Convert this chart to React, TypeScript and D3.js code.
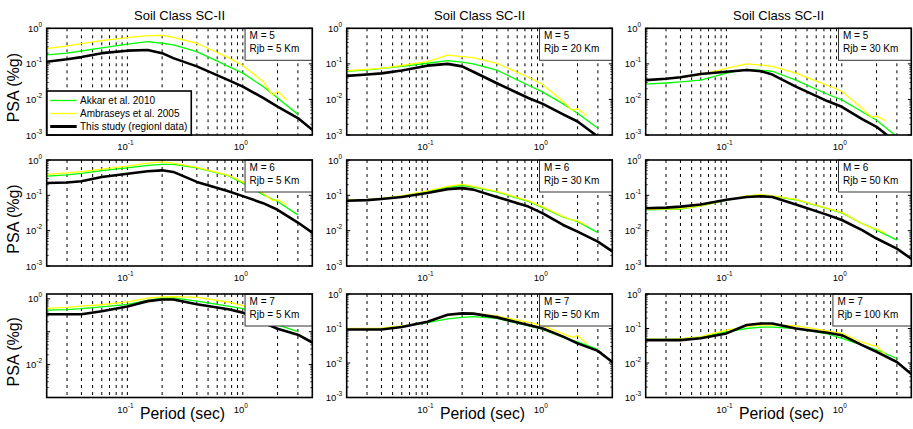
import React from 'react';
import * as d3 from 'd3';

const W = 913;
const H = 429;
const FONT = 'Arial, "Liberation Sans", Helvetica, sans-serif';

// Periods (s)
const PERIODS_STUDY = [0.02, 0.03, 0.04, 0.06, 0.1, 0.15, 0.2, 0.25, 0.4, 0.75, 1, 1.5, 2, 3, 4];
const PERIODS_AKKAR = [0.02, 0.03, 0.04, 0.06, 0.1, 0.15, 0.2, 0.25, 0.4, 0.75, 1, 1.5, 2, 3];
const PERIODS_AMB = [0.02, 0.03, 0.04, 0.06, 0.1, 0.15, 0.2, 0.25, 0.4, 0.75, 1, 1.5, 1.8, 2, 2.4];

const MAGNITUDES = [5, 5, 5, 6, 6, 6, 7, 7, 7];
const DISTANCES = [5, 20, 30, 5, 30, 50, 5, 50, 100];

const TITLE = 'Soil Class SC-II';
const Y_LABEL = 'PSA (%g)';
const X_LABEL = 'Period (sec)';
const LEGEND_LABELS = ['Akkar et al. 2010', 'Ambraseys et al. 2005', 'This study (regionl data)'];

// M5 Rjb5
const STUDY_M5_R5 = [0.115, 0.135, 0.155, 0.2, 0.235, 0.245, 0.2, 0.145, 0.085, 0.035, 0.023, 0.011, 0.0063, 0.003, 0.0014];
const AKKAR_M5_R5 = [0.178, 0.2, 0.23, 0.28, 0.36, 0.42, 0.38, 0.34, 0.22, 0.085, 0.055, 0.023, 0.011, 0.0038];
const AMB_M5_R5 = [0.27, 0.32, 0.37, 0.45, 0.55, 0.62, 0.63, 0.56, 0.38, 0.15, 0.09, 0.032, 0.0134, 0.0166, 0.0097];
// M5 Rjb20
const STUDY_M5_R20 = [0.046, 0.05, 0.054, 0.065, 0.089, 0.1, 0.085, 0.06, 0.0285, 0.011, 0.0075, 0.0038, 0.0024, 0.0009, 0.0004];
const AKKAR_M5_R20 = [0.062, 0.068, 0.075, 0.085, 0.104, 0.123, 0.112, 0.1, 0.067, 0.025, 0.016, 0.0075, 0.0041, 0.00155];
const AMB_M5_R20 = [0.064, 0.07, 0.075, 0.09, 0.115, 0.175, 0.16, 0.15, 0.104, 0.042, 0.026, 0.0087, 0.0049, 0.0055, 0.0035];
// M5 Rjb30
const STUDY_M5_R30 = [0.035, 0.038, 0.042, 0.052, 0.06, 0.067, 0.062, 0.05, 0.023, 0.009, 0.0062, 0.0028, 0.0017, 0.0006, 0.0003];
const AKKAR_M5_R30 = [0.027, 0.029, 0.031, 0.035, 0.055, 0.07, 0.066, 0.062, 0.035, 0.014, 0.0097, 0.0045, 0.0026, 0.0009];
const AMB_M5_R30 = [0.034, 0.038, 0.042, 0.05, 0.075, 0.1, 0.092, 0.085, 0.055, 0.025, 0.017, 0.0056, 0.0032, 0.0034, 0.0025];
// M6 Rjb5
const STUDY_M6_R5 = [0.224, 0.23, 0.25, 0.33, 0.41, 0.48, 0.51, 0.46, 0.24, 0.13, 0.095, 0.06, 0.039, 0.017, 0.0088];
const AKKAR_M6_R5 = [0.35, 0.38, 0.42, 0.5, 0.6, 0.7, 0.75, 0.75, 0.6, 0.36, 0.22, 0.104, 0.067, 0.028];
const AMB_M6_R5 = [0.39, 0.43, 0.47, 0.55, 0.67, 0.82, 0.88, 0.82, 0.62, 0.37, 0.24, 0.115, 0.072, 0.075, 0.054];
// M6 Rjb30
const STUDY_M6_R30 = [0.07, 0.073, 0.079, 0.09, 0.117, 0.15, 0.16, 0.145, 0.09, 0.048, 0.031, 0.0145, 0.0094, 0.0049, 0.0026];
const AKKAR_M6_R30 = [0.072, 0.075, 0.08, 0.095, 0.13, 0.17, 0.19, 0.17, 0.125, 0.067, 0.045, 0.024, 0.018, 0.0088];
const AMB_M6_R30 = [0.073, 0.076, 0.082, 0.097, 0.133, 0.18, 0.205, 0.18, 0.13, 0.07, 0.047, 0.025, 0.02, 0.019, 0.014];
// M6 Rjb50
const STUDY_M6_R50 = [0.043, 0.045, 0.048, 0.055, 0.075, 0.09, 0.094, 0.09, 0.055, 0.028, 0.02, 0.0104, 0.006, 0.0031, 0.0016];
const AKKAR_M6_R50 = [0.039, 0.04, 0.041, 0.05, 0.072, 0.095, 0.104, 0.095, 0.075, 0.042, 0.032, 0.016, 0.0104, 0.0054];
const AMB_M6_R50 = [0.04, 0.041, 0.042, 0.05, 0.073, 0.097, 0.106, 0.097, 0.077, 0.043, 0.033, 0.016, 0.012, 0.011, 0.0085];
// M7 Rjb5
const STUDY_M7_R5 = [0.34, 0.34, 0.34, 0.42, 0.58, 0.85, 0.95, 0.95, 0.68, 0.48, 0.38, 0.19, 0.123, 0.081, 0.047];
const AKKAR_M7_R5 = [0.45, 0.47, 0.5, 0.57, 0.68, 0.9, 1.05, 1.07, 0.85, 0.6, 0.5, 0.25, 0.16, 0.1];
const AMB_M7_R5 = [0.51, 0.55, 0.6, 0.66, 0.81, 1.05, 1.15, 1.17, 1.1, 0.8, 0.62, 0.35, 0.27, 0.25, 0.18];
// M7 Rjb50
const STUDY_M7_R50 = [0.094, 0.094, 0.094, 0.11, 0.157, 0.25, 0.275, 0.27, 0.21, 0.126, 0.1, 0.058, 0.037, 0.0225, 0.0107];
const AKKAR_M7_R50 = [0.094, 0.095, 0.1, 0.115, 0.147, 0.19, 0.21, 0.22, 0.196, 0.12, 0.094, 0.055, 0.041, 0.025];
const AMB_M7_R50 = [0.1, 0.1, 0.103, 0.118, 0.155, 0.24, 0.27, 0.275, 0.23, 0.15, 0.12, 0.07, 0.055, 0.063, 0.037];
// M7 Rjb100
const STUDY_M7_R100 = [0.046, 0.046, 0.046, 0.052, 0.072, 0.126, 0.14, 0.14, 0.1, 0.075, 0.064, 0.033, 0.021, 0.0107, 0.0048];
const AKKAR_M7_R100 = [0.048, 0.048, 0.05, 0.056, 0.08, 0.1, 0.11, 0.11, 0.1, 0.07, 0.052, 0.033, 0.024, 0.0135];
const AMB_M7_R100 = [0.048, 0.048, 0.05, 0.058, 0.09, 0.115, 0.126, 0.126, 0.12, 0.085, 0.072, 0.04, 0.033, 0.031, 0.017];

const STUDY = [STUDY_M5_R5, STUDY_M5_R20, STUDY_M5_R30, STUDY_M6_R5, STUDY_M6_R30, STUDY_M6_R50, STUDY_M7_R5, STUDY_M7_R50, STUDY_M7_R100];
const AKKAR = [AKKAR_M5_R5, AKKAR_M5_R20, AKKAR_M5_R30, AKKAR_M6_R5, AKKAR_M6_R30, AKKAR_M6_R50, AKKAR_M7_R5, AKKAR_M7_R50, AKKAR_M7_R100];
const AMB = [AMB_M5_R5, AMB_M5_R20, AMB_M5_R30, AMB_M6_R5, AMB_M6_R30, AMB_M6_R50, AMB_M7_R5, AMB_M7_R50, AMB_M7_R100];

const X_DOMAIN = [0.02, 4];
const X_GRID = [0.03, 0.04, 0.05, 0.06, 0.07, 0.08, 0.09, 0.1, 0.2, 0.3, 0.4, 0.5, 0.6, 0.7, 0.8, 0.9, 1, 2, 3];
const X_TICKS = [0.1, 1];
const Y_DOMAIN_DEFAULT = [0.001, 1];
const Y_DOMAIN_M7_R5 = [0.001, 1.4];
const Y_TICKS_DEFAULT = [0.001, 0.01, 0.1, 1];
const Y_TICKS_M7_R5 = [0.01, 1];

// layout
const COL_X = [46.7, 346.7, 645.7];
const PW = 265.6;
const ROW_Y = [28.3, 160, 294];
const ROW_H = [106.7, 106, 103.5];

const GREEN = '#00ff00';
const YELLOW = '#ffff00';

let _ctx: CanvasRenderingContext2D | null = null;
function measure(s: string, size: number): number {
  if (typeof document === 'undefined') return s.length * size * 0.55;
  if (!_ctx) _ctx = document.createElement('canvas').getContext('2d');
  if (!_ctx) return s.length * size * 0.55;
  _ctx.font = `${size}px ${FONT}`;
  return _ctx.measureText(s).width;
}

function expLabel(v: number) {
  return String(Math.round(Math.log10(v)));
}

function Panel({ idx }: { idx: number }) {
  const row = Math.floor(idx / 3);
  const col = idx % 3;
  const x0 = COL_X[col];
  const y0 = ROW_Y[row];
  const h = ROW_H[row];
  const special = idx === 6;
  const yDomain = special ? Y_DOMAIN_M7_R5 : Y_DOMAIN_DEFAULT;
  const yTicks = special ? Y_TICKS_M7_R5 : Y_TICKS_DEFAULT;

  const xs = d3.scaleLog().domain(X_DOMAIN).range([x0, x0 + PW]);
  const ys = d3.scaleLog().domain(yDomain).range([y0 + h, y0]);
  const line = d3.line<[number, number]>().x(d => xs(d[0])).y(d => ys(d[1]));

  const akkarPts = PERIODS_AKKAR.map((t, i) => [t, AKKAR[idx][i]] as [number, number]);
  const ambPts = PERIODS_AMB.map((t, i) => [t, AMB[idx][i]] as [number, number]);
  const studyPts = PERIODS_STUDY.map((t, i) => [t, STUDY[idx][i]] as [number, number]);

  // minor y ticks
  const minorY: number[] = [];
  const lo = Math.floor(Math.log10(yDomain[0]));
  const hi = Math.ceil(Math.log10(yDomain[1]));
  for (let e = lo; e < hi; e++) {
    for (let m = 2; m <= 9; m++) {
      const v = m * Math.pow(10, e);
      if (v > yDomain[0] && v < yDomain[1]) minorY.push(v);
    }
  }
  const majorY = special ? [0.01, 0.1, 1] : Y_TICKS_DEFAULT;

  const clipId = `clip-${idx}`;
  const right = x0 + PW;
  const bottom = y0 + h;

  // annotation box
  const l1 = `M = ${MAGNITUDES[idx]}`;
  const l2 = `Rjb = ${DISTANCES[idx]} Km`;
  const tw = Math.max(measure(l1, 10), measure(l2, 10));
  const boxW = tw + 17.5;
  const boxX = right - boxW;
  const boxH = 32;

  return (
    <g>
      <defs>
        <clipPath id={clipId}>
          <rect x={x0} y={y0} width={PW} height={h} />
        </clipPath>
      </defs>
      <rect x={x0} y={y0} width={PW} height={h} fill="#fff" />
      {/* grid */}
      {X_GRID.map(g => (
        <line key={'g' + g} x1={xs(g)} x2={xs(g)} y1={y0} y2={bottom} stroke="#000" strokeWidth={1}
          strokeDasharray="3,4" />
      ))}
      {/* minor/major ticks */}
      {minorY.map(v => (
        <g key={'my' + v}>
          <line x1={x0} x2={x0 + 2} y1={ys(v)} y2={ys(v)} stroke="#000" strokeWidth={0.8} />
          <line x1={right} x2={right - 2} y1={ys(v)} y2={ys(v)} stroke="#000" strokeWidth={0.8} />
        </g>
      ))}
      {majorY.map(v => (
        <g key={'My' + v}>
          <line x1={x0} x2={x0 + 3.5} y1={ys(v)} y2={ys(v)} stroke="#000" strokeWidth={1} />
          <line x1={right} x2={right - 3.5} y1={ys(v)} y2={ys(v)} stroke="#000" strokeWidth={1} />
        </g>
      ))}
      {/* curves */}
      <g clipPath={`url(#${clipId})`}>
        <path d={line(akkarPts) || ''} fill="none" stroke={GREEN} strokeWidth={1.3} strokeLinejoin="round" />
        <path d={line(ambPts) || ''} fill="none" stroke={YELLOW} strokeWidth={1.3} strokeLinejoin="round" />
        <path d={line(studyPts) || ''} fill="none" stroke="#000" strokeWidth={2.6} strokeLinejoin="round" />
      </g>
      {/* annotation */}
      <rect x={boxX} y={y0} width={boxW} height={boxH} fill="#fff" stroke="#333" strokeWidth={1} />
      <text x={boxX + 4.5} y={y0 + 10.5} fontSize={10} fontFamily={FONT} fill="#000">{l1}</text>
      <text x={boxX + 4.5} y={y0 + 23.5} fontSize={10} fontFamily={FONT} fill="#000">{l2}</text>
      {/* legend */}
      {idx === 0 && (() => {
        const lw = 33.3 + Math.max(...LEGEND_LABELS.map(s => measure(s, 10))) + 4;
        const lh = 44;
        const lx = x0;
        const ly = bottom - lh;
        const colors = [GREEN, YELLOW, '#000'];
        const widths = [1.3, 1.3, 3];
        const offs = [9.5, 22.5, 35.5];
        return (
          <g>
            <rect x={lx} y={ly} width={lw} height={lh} fill="#fff" stroke="#000" strokeWidth={1.6} />
            {LEGEND_LABELS.map((s, i) => (
              <g key={s}>
                <line x1={lx + 3.5} x2={lx + 30} y1={ly + offs[i]} y2={ly + offs[i]} stroke={colors[i]} strokeWidth={widths[i]} />
                <text x={lx + 33.3} y={ly + offs[i] + 3.6} fontSize={10} fontFamily={FONT} fill="#000">{s}</text>
              </g>
            ))}
          </g>
        );
      })()}
      {/* frame */}
      <rect x={x0} y={y0} width={PW} height={h} fill="none" stroke="#000" strokeWidth={1.6} />
      {/* y tick labels */}
      {yTicks.map(v => (
        <text key={'yl' + v} x={x0 - 4.5} y={ys(v) + 3.5} textAnchor="end" fontSize={9.5} fontFamily={FONT} fill="#000">
          10<tspan dy={-5} fontSize={6.5}>{expLabel(v)}</tspan>
        </text>
      ))}
      {/* x tick labels */}
      {X_TICKS.map(v => (
        <text key={'xl' + v} x={xs(v) - 2} y={bottom + 15} textAnchor="middle" fontSize={9.5} fontFamily={FONT} fill="#000">
          10<tspan dy={-5} fontSize={6.5}>{expLabel(v)}</tspan>
        </text>
      ))}
      {row === 0 && (
        <text x={x0 + PW / 2} y={19.5} textAnchor="middle" fontSize={13} fontFamily={FONT} fill="#000">{TITLE}</text>
      )}
      {row === 2 && (
        <text x={x0 + PW / 2 + 3} y={419} textAnchor="middle" fontSize={15.8} fontFamily={FONT} fill="#000">{X_LABEL}</text>
      )}
      {col === 0 && (
        <text transform={`translate(18.5, ${y0 + h / 2 + 6}) rotate(-90)`} textAnchor="middle" fontSize={16} fontFamily={FONT} fill="#000">{Y_LABEL}</text>
      )}
    </g>
  );
}

export default function App() {
  const idxs = d3.range(9);
  return (
    <svg width={W} height={H} style={{ position: 'absolute', left: 0, top: 0, background: '#fff' }}
      xmlns="http://www.w3.org/2000/svg">
      <rect x={0} y={0} width={W} height={H} fill="#fff" />
      {idxs.map(i => <Panel key={i} idx={i} />)}
    </svg>
  );
}
